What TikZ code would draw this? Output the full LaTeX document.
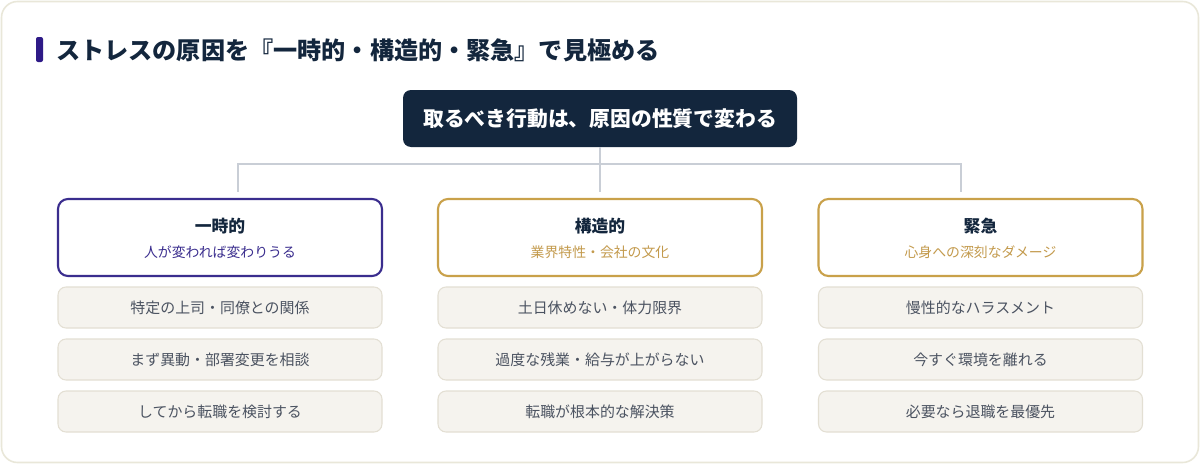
\documentclass[tikz,border=0pt]{standalone}
\usepackage{fontspec}
\setmainfont{Noto Sans CJK JP}
\definecolor{navy}{HTML}{13263D}
\definecolor{violet}{HTML}{3A2D8E}
\definecolor{barviolet}{HTML}{2E1A87}
\definecolor{gold}{HTML}{C9A14A}
\definecolor{goldtext}{HTML}{C39A4C}
\definecolor{itemfill}{HTML}{F5F3EE}
\definecolor{itemline}{HTML}{E3DFD3}
\definecolor{itemtext}{HTML}{4B5361}
\definecolor{cardline}{HTML}{E9E7D9}
\definecolor{busline}{HTML}{C9CED6}
\tikzset{
  headbox/.style={draw=#1,line width=1.6pt,fill=white,rounded corners=7.5pt,
    minimum width=243pt,minimum height=57.75pt},
  headtitle/.style={text=navy,font=\fontsize{12.6}{14}\selectfont\bfseries},
  headsub/.style={text=#1,font=\fontsize{10.4}{12}\selectfont},
  itembox/.style={draw=itemline,line width=0.8pt,fill=itemfill,rounded corners=6pt,
    minimum width=243pt,minimum height=30.75pt,text=itemtext,
    font=\fontsize{11.2}{13}\selectfont},
  conn/.style={draw=busline,line width=1.5pt}
}
\begin{document}
\begin{tikzpicture}[x=0.75pt,y=-0.75pt]
\useasboundingbox (0,0) rectangle (1200,464);
\draw[cardline,line width=1.2pt,fill=white,rounded corners=12pt] (1.5,1.5) rectangle (1198.5,462.5);
\fill[barviolet,rounded corners=1.5pt] (36,37) rectangle (43,62);
\node[anchor=west,text=navy,font=\fontsize{18.1}{20}\selectfont\bfseries,inner sep=0pt] (title) at (56,50)
  {ストレスの原因を『一時的・構造的・緊急』で見極める};
\node[fill=navy,rounded corners=6pt,minimum width=295.5pt,minimum height=42.75pt,
  text=white,font=\fontsize{15.6}{18}\selectfont\bfseries] (top) at (600,118.5)
  {取るべき行動は、原因の性質で変わる};
\node[headbox=violet] (h1) at (220,237.5) {};
\node[headbox=gold] (h2) at (600,237.5) {};
\node[headbox=gold] (h3) at (980.5,237.5) {};
\coordinate (bus) at (600,164);
\draw[conn] (top.south) -- (bus);
\draw[conn,shorten >=4.5pt] (bus) -| ([xshift=13.5pt]h1.north);
\draw[conn,shorten >=4.5pt] (bus) -- (h2.north);
\draw[conn,shorten >=4.5pt] (bus) -| ([xshift=-14.6pt]h3.north);
\node[headtitle] (h1t) at (220,226) {一時的};
\node[headsub=violet] (h1s) at (220,252) {人が変われば変わりうる};
\node[headtitle] (h2t) at (600,226) {構造的};
\node[headsub=goldtext] (h2s) at (600,252) {業界特性・会社の文化};
\node[headtitle] (h3t) at (980.5,226) {緊急};
\node[headsub=goldtext] (h3s) at (980.5,252) {心身への深刻なダメージ};
\node[itembox] (a1) at (220,307.5) {特定の上司・同僚との関係};
\node[itembox] (a2) at (220,359.5) {まず異動・部署変更を相談};
\node[itembox] (a3) at (220,411.5) {してから転職を検討する};
\node[itembox] (b1) at (600,307.5) {土日休めない・体力限界};
\node[itembox] (b2) at (600,359.5) {過度な残業・給与が上がらない};
\node[itembox] (b3) at (600,411.5) {転職が根本的な解決策};
\node[itembox] (c1) at (980.5,307.5) {慢性的なハラスメント};
\node[itembox] (c2) at (980.5,359.5) {今すぐ環境を離れる};
\node[itembox] (c3) at (980.5,411.5) {必要なら退職を最優先};
\end{tikzpicture}
\end{document}
